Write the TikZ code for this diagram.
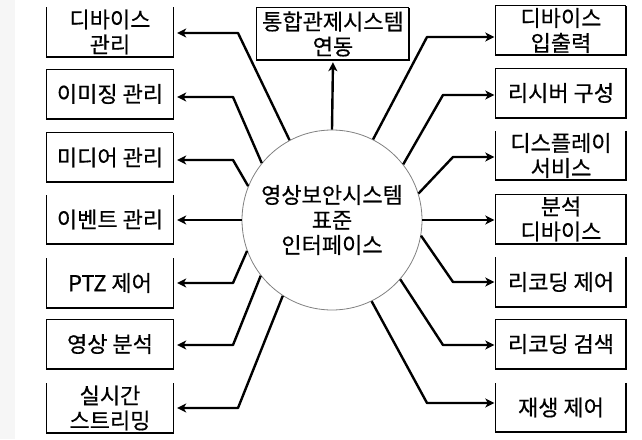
\documentclass[tikz,border=0pt]{standalone}
\usepackage{fontspec}
\newfontfamily\kr[FakeBold=0.5]{Noto Sans CJK KR}
\usetikzlibrary{arrows.meta}
\newcommand\edgesT[2]{%
 \draw[line width=0.9pt] (#1.south west) -- (#1.north west) -- (#1.north east);
 \draw[line width=#2] (#1.north east) -- (#1.south east);
 \draw[line width=2.4pt, line cap=rect] (#1.south west) -- (#1.south east);}
\newcommand\edgesN[2]{%
 \draw[line width=0.9pt] (#1.south west) -- (#1.north west);
 \draw[line width=#2] (#1.north east) -- (#1.south east);
 \draw[line width=2.4pt, line cap=rect] (#1.south west) -- (#1.south east);}
\begin{document}
\begin{tikzpicture}[x=1pt,y=-1pt,
  boxbase/.style={inner sep=0pt, align=center, minimum height=49pt, font=\kr\fontsize{22}{25}\selectfont},
  lbox/.style={boxbase, minimum width=126pt},
  rbox/.style={boxbase, minimum width=130pt},
  conn/.style={line width=2.4pt, line join=round, -{Stealth[length=9pt,width=9pt,inset=2.5pt]}},
  lconn/.style={conn, shorten >=4pt},
  rconn/.style={conn, shorten >=1.5pt}]
\useasboundingbox (0,0) rectangle (642,439);
\fill[gray!7] (0,0) rectangle (15,439);
% left boxes
\node[lbox] (l1) at (110,32) {디바이스\\관리};
\node[lbox] (l2) at (110,94) {이미징 관리};
\node[lbox] (l3) at (110,157.5) {미디어 관리};
\node[lbox] (l4) at (110,219.5) {이벤트 관리};
\node[lbox] (l5) at (110,283) {PTZ 제어};
\node[lbox] (l6) at (110,344) {영상 분석};
\node[lbox] (l7) at (110,408) {실시간\\스트리밍};
% right boxes
\node[rbox] (r1) at (561,30.5) {디바이스\\입출력};
\node[rbox] (r2) at (561,93) {리시버 구성};
\node[rbox] (r3) at (561,155.5) {디스플레이\\서비스};
\node[rbox] (r4) at (561,219) {분석\\디바이스};
\node[rbox] (r5) at (561,282) {리코딩 제어};
\node[rbox] (r6) at (561,344) {리코딩 검색};
\node[rbox] (r7) at (561,407.5) {재생 제어};
% top box
\node[boxbase, minimum width=152pt, minimum height=52pt] (t) at (333,34) {통합관제시스템\\연동};
% edges
\edgesN{l1}{1.4pt}\edgesT{l2}{1.4pt}\edgesT{l3}{1.4pt}\edgesN{l4}{1.4pt}
\edgesN{l5}{1.4pt}\edgesT{l6}{1.4pt}\edgesN{l7}{1.4pt}
\edgesT{r1}{2pt}\edgesT{r2}{2pt}\edgesN{r3}{2pt}\edgesT{r4}{2pt}
\edgesN{r5}{2pt}\edgesT{r6}{2pt}\edgesN{r7}{2pt}
\edgesT{t}{2pt}
% circle
\node[circle, draw=gray, line width=0.8pt, minimum size=180pt, inner sep=0pt, align=center,
  font=\kr\fontsize{22}{25}\selectfont] (c) at (332,220) {영상보안시스템\\표준\\인터페이스};
% kinks
\coordinate (kL1) at (238,33);
\coordinate (kL2) at (233,97);
\coordinate (kL3) at (233,160);
\coordinate (kL5) at (233,283);
\coordinate (kL6) at (233,345);
\coordinate (kL7) at (238,408);
\coordinate (kR1) at (427,37);
\coordinate (kR2) at (443,95);
\coordinate (kR3) at (453,157);
\coordinate (kR5) at (453,282);
\coordinate (kR6) at (443,345);
\coordinate (kR7) at (427,403);
% connectors
\draw[lconn] (c.118.5) -- (kL1) -- (kL1 -| l1.east);
\draw[lconn] (c.141.9) -- (kL2) -- (kL2 -| l2.east);
\draw[lconn] (c.158.5) -- (kL3) -- (kL3 -| l3.east);
\draw[lconn] (c.180) -- (c.180 -| l4.east);
\draw[lconn] (c.200.2) -- (kL5) -- (kL5 -| l5.east);
\draw[lconn] (c.218.9) -- (kL6) -- (kL6 -| l6.east);
\draw[lconn] (c.237.9) -- (kL7) -- (kL7 -| l7.east);
\draw[rconn] (c.63.7) -- (kR1) -- (kR1 -| r1.west);
\draw[rconn] (c.38) -- (kR2) -- (kR2 -| r2.west);
\draw[rconn] (c.17.6) -- (kR3) -- (kR3 -| r3.west);
\draw[rconn] (c.0) -- (c.0 -| r4.west);
\draw[rconn] (c.350.3) -- (kR5) -- (kR5 -| r5.west);
\draw[rconn] (c.319.8) -- (kR6) -- (kR6 -| r6.west);
\draw[rconn] (c.296.6) -- (kR7) -- (kR7 -| r7.west);
\draw[conn, shorten >=2pt] (c.90) -- (t.south);
\end{tikzpicture}
\end{document}
